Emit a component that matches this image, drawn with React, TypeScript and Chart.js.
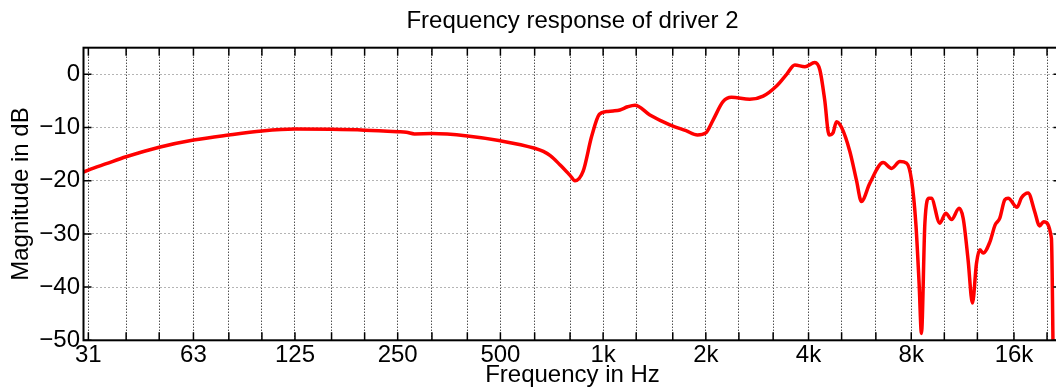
import React, { useEffect, useRef } from 'react';
import { Chart, registerables } from 'chart.js';

Chart.register(...registerables);

const TITLE = 'Frequency response of driver 2';
const X_TITLE = 'Frequency in Hz';
const Y_TITLE = 'Magnitude in dB';

const frequencies = [
  30, 31, 35, 40, 50, 63, 80, 100, 125, 160, 200, 250, 265, 280, 315, 400, 500, 630, 668, 700,
  747, 800, 827, 874, 926, 975, 1024, 1070, 1120, 1180, 1240, 1371, 1569, 1750, 1890, 2000,
  2100, 2246, 2377, 2690, 2945, 3223, 3450, 3646, 3902, 4173, 4318, 4460, 4594, 4718, 4830,
  5000, 5286, 5526, 5715, 6047, 6617, 7005, 7407, 7750, 8016, 8251, 8435, 8570, 8770, 9018,
  9160, 9700, 10100, 10498, 11049, 11360, 11740, 12090, 12425, 12705, 13000, 13600, 14090,
  14530, 15040, 15385, 16337, 16830, 17600, 18400, 19020, 19550, 20600, 20900,
];

const magnitudes = [
  -18.4, -18.0, -16.8, -15.5, -13.7, -12.35, -11.4, -10.66, -10.3, -10.35, -10.5, -10.8, -10.9,
  -11.2, -11.15, -11.6, -12.5, -13.9, -14.5, -15.3, -17.0, -19.0, -20.0, -18.2, -11.6, -7.5,
  -7.0, -6.9, -6.7, -6.1, -5.8, -7.65, -9.5, -10.6, -11.4, -11.0, -8.6, -5.15, -4.33, -4.7,
  -4.1, -2.2, 0.0, 1.75, 1.43, 2.2, 0.8, -4.8, -11.4, -11.0, -8.9, -10.0, -14.5, -19.9, -23.9,
  -20.5, -16.6, -17.7, -16.4, -16.7, -19.9, -28, -39.3, -48.7, -28, -23.3, -23.3, -28, -26.1,
  -27.3, -25.2, -27.1, -34.9, -43, -35.5, -33, -33.6, -31.5, -28.3, -27.1, -23.6, -23.3, -25,
  -23.2, -22.3, -25.8, -28.5, -27.7, -30.8, -60,
];

const xGridTicks = [
  31, 40, 50, 63, 80, 100, 125, 160, 200, 250, 315, 400, 500, 630, 800, 1000, 1250, 1600, 2000,
  2500, 3150, 4000, 5000, 6300, 8000, 10000, 12500, 16000, 20000,
];
const xLabelValues = [31, 63, 125, 250, 500, 1000, 2000, 4000, 8000, 16000];
const xLabelTexts = ['31', '63', '125', '250', '500', '1k', '2k', '4k', '8k', '16k'];
const yTicks = [-50, -40, -30, -20, -10, 0];

const X_MIN = 30;
const X_MAX = 22050;
const Y_MIN = -50;
const Y_MAX = 5;

const FONT = '"Liberation Sans", Arial, Helvetica, sans-serif';

const framePlugin = {
  id: 'matlabFrame',
  afterDraw(chart: any) {
    const { ctx, chartArea } = chart;
    const { left, right, top, bottom } = chartArea;
    const xs = chart.scales.x;
    const ys = chart.scales.y;
    ctx.save();
    ctx.setLineDash([]);
    ctx.strokeStyle = '#000';
    ctx.lineWidth = 1.5;
    ctx.beginPath();
    for (const v of xGridTicks) {
      const px = xs.getPixelForValue(v);
      ctx.moveTo(px, bottom);
      ctx.lineTo(px, bottom - 8);
      ctx.moveTo(px, top);
      ctx.lineTo(px, top + 8);
    }
    for (const v of yTicks) {
      const py = ys.getPixelForValue(v);
      ctx.moveTo(left, py);
      ctx.lineTo(left + 8, py);
      ctx.moveTo(right, py);
      ctx.lineTo(right - 8, py);
    }
    ctx.stroke();
    ctx.lineWidth = 2;
    ctx.strokeRect(left, top, right - left, bottom - top);
    ctx.fillStyle = '#000';
    ctx.font = '24px ' + FONT;
    ctx.textAlign = 'center';
    ctx.textBaseline = 'alphabetic';
    ctx.fillText(TITLE, (left + right) / 2, 28.3);
    ctx.restore();
  },
};

function fmtY(v: number): string {
  return v < 0 ? '\u2212' + Math.abs(v) : String(v);
}

export default function App() {
  const ref = useRef<HTMLCanvasElement>(null);

  useEffect(() => {
    document.body.style.margin = '0';
    document.body.style.overflow = 'hidden';
    document.documentElement.style.overflow = 'hidden';
    Chart.defaults.font.family = FONT;
    Chart.defaults.color = '#000';

    const points = frequencies.map((f, i) => ({ x: f, y: magnitudes[i] }));

    const chart = new Chart(ref.current as HTMLCanvasElement, {
      type: 'line',
      data: {
        datasets: [
          {
            data: points,
            borderColor: '#ff0000',
            borderWidth: 3.5,
            pointRadius: 0,
            fill: false,
            cubicInterpolationMode: 'monotone',
          },
        ],
      },
      options: {
        animation: false,
        responsive: false,
        devicePixelRatio: 1,
        layout: { padding: { top: 47.7, right: 2.5, bottom: 0, left: 0 } },
        plugins: {
          legend: { display: false },
          title: { display: false },
          tooltip: { enabled: false },
        },
        scales: {
          x: {
            type: 'logarithmic',
            min: X_MIN,
            max: X_MAX,
            position: 'bottom',
            afterBuildTicks: (s: any) => {
              s.ticks = xGridTicks.map((v) => ({ value: v }));
            },
            afterFit: (s: any) => {
              s.height = 49.7;
            },
            ticks: {
              autoSkip: false,
              maxRotation: 0,
              minRotation: 0,
              padding: 3,
              color: '#000',
              font: { size: 24, lineHeight: 1 },
              callback: (v: any) => {
                const i = xLabelValues.indexOf(Number(v));
                return i >= 0 ? xLabelTexts[i] : '';
              },
            },
            grid: { color: '#000', lineWidth: 1, drawTicks: false },
            border: { display: false, dash: [1, 2] },
            title: {
              display: true,
              text: X_TITLE,
              color: '#000',
              font: { size: 24, lineHeight: 1 },
              padding: { top: 0, bottom: 2.8 },
            },
          },
          y: {
            type: 'linear',
            min: Y_MIN,
            max: Y_MAX,
            afterBuildTicks: (s: any) => {
              s.ticks = yTicks.map((v) => ({ value: v }));
            },
            afterFit: (s: any) => {
              s.width = 83.5;
            },
            ticks: {
              padding: 3.5,
              color: '#000',
              font: { size: 24, lineHeight: 1 },
              callback: (v: any) => fmtY(Number(v)),
            },
            grid: { color: '#b4b4b4', lineWidth: 1, drawTicks: false },
            border: { display: false, dash: [2, 2] },
            title: {
              display: true,
              text: Y_TITLE,
              color: '#000',
              font: { size: 24, lineHeight: 1 },
              padding: { top: 9.6, bottom: 0 },
            },
          },
        },
      } as any,
      plugins: [framePlugin],
    });

    return () => chart.destroy();
  }, []);

  return (
    <div style={{ width: 1064, height: 390, overflow: 'hidden' }}>
      <canvas ref={ref} width={1064} height={390} style={{ display: 'block', width: 1064, height: 390 }} />
    </div>
  );
}
